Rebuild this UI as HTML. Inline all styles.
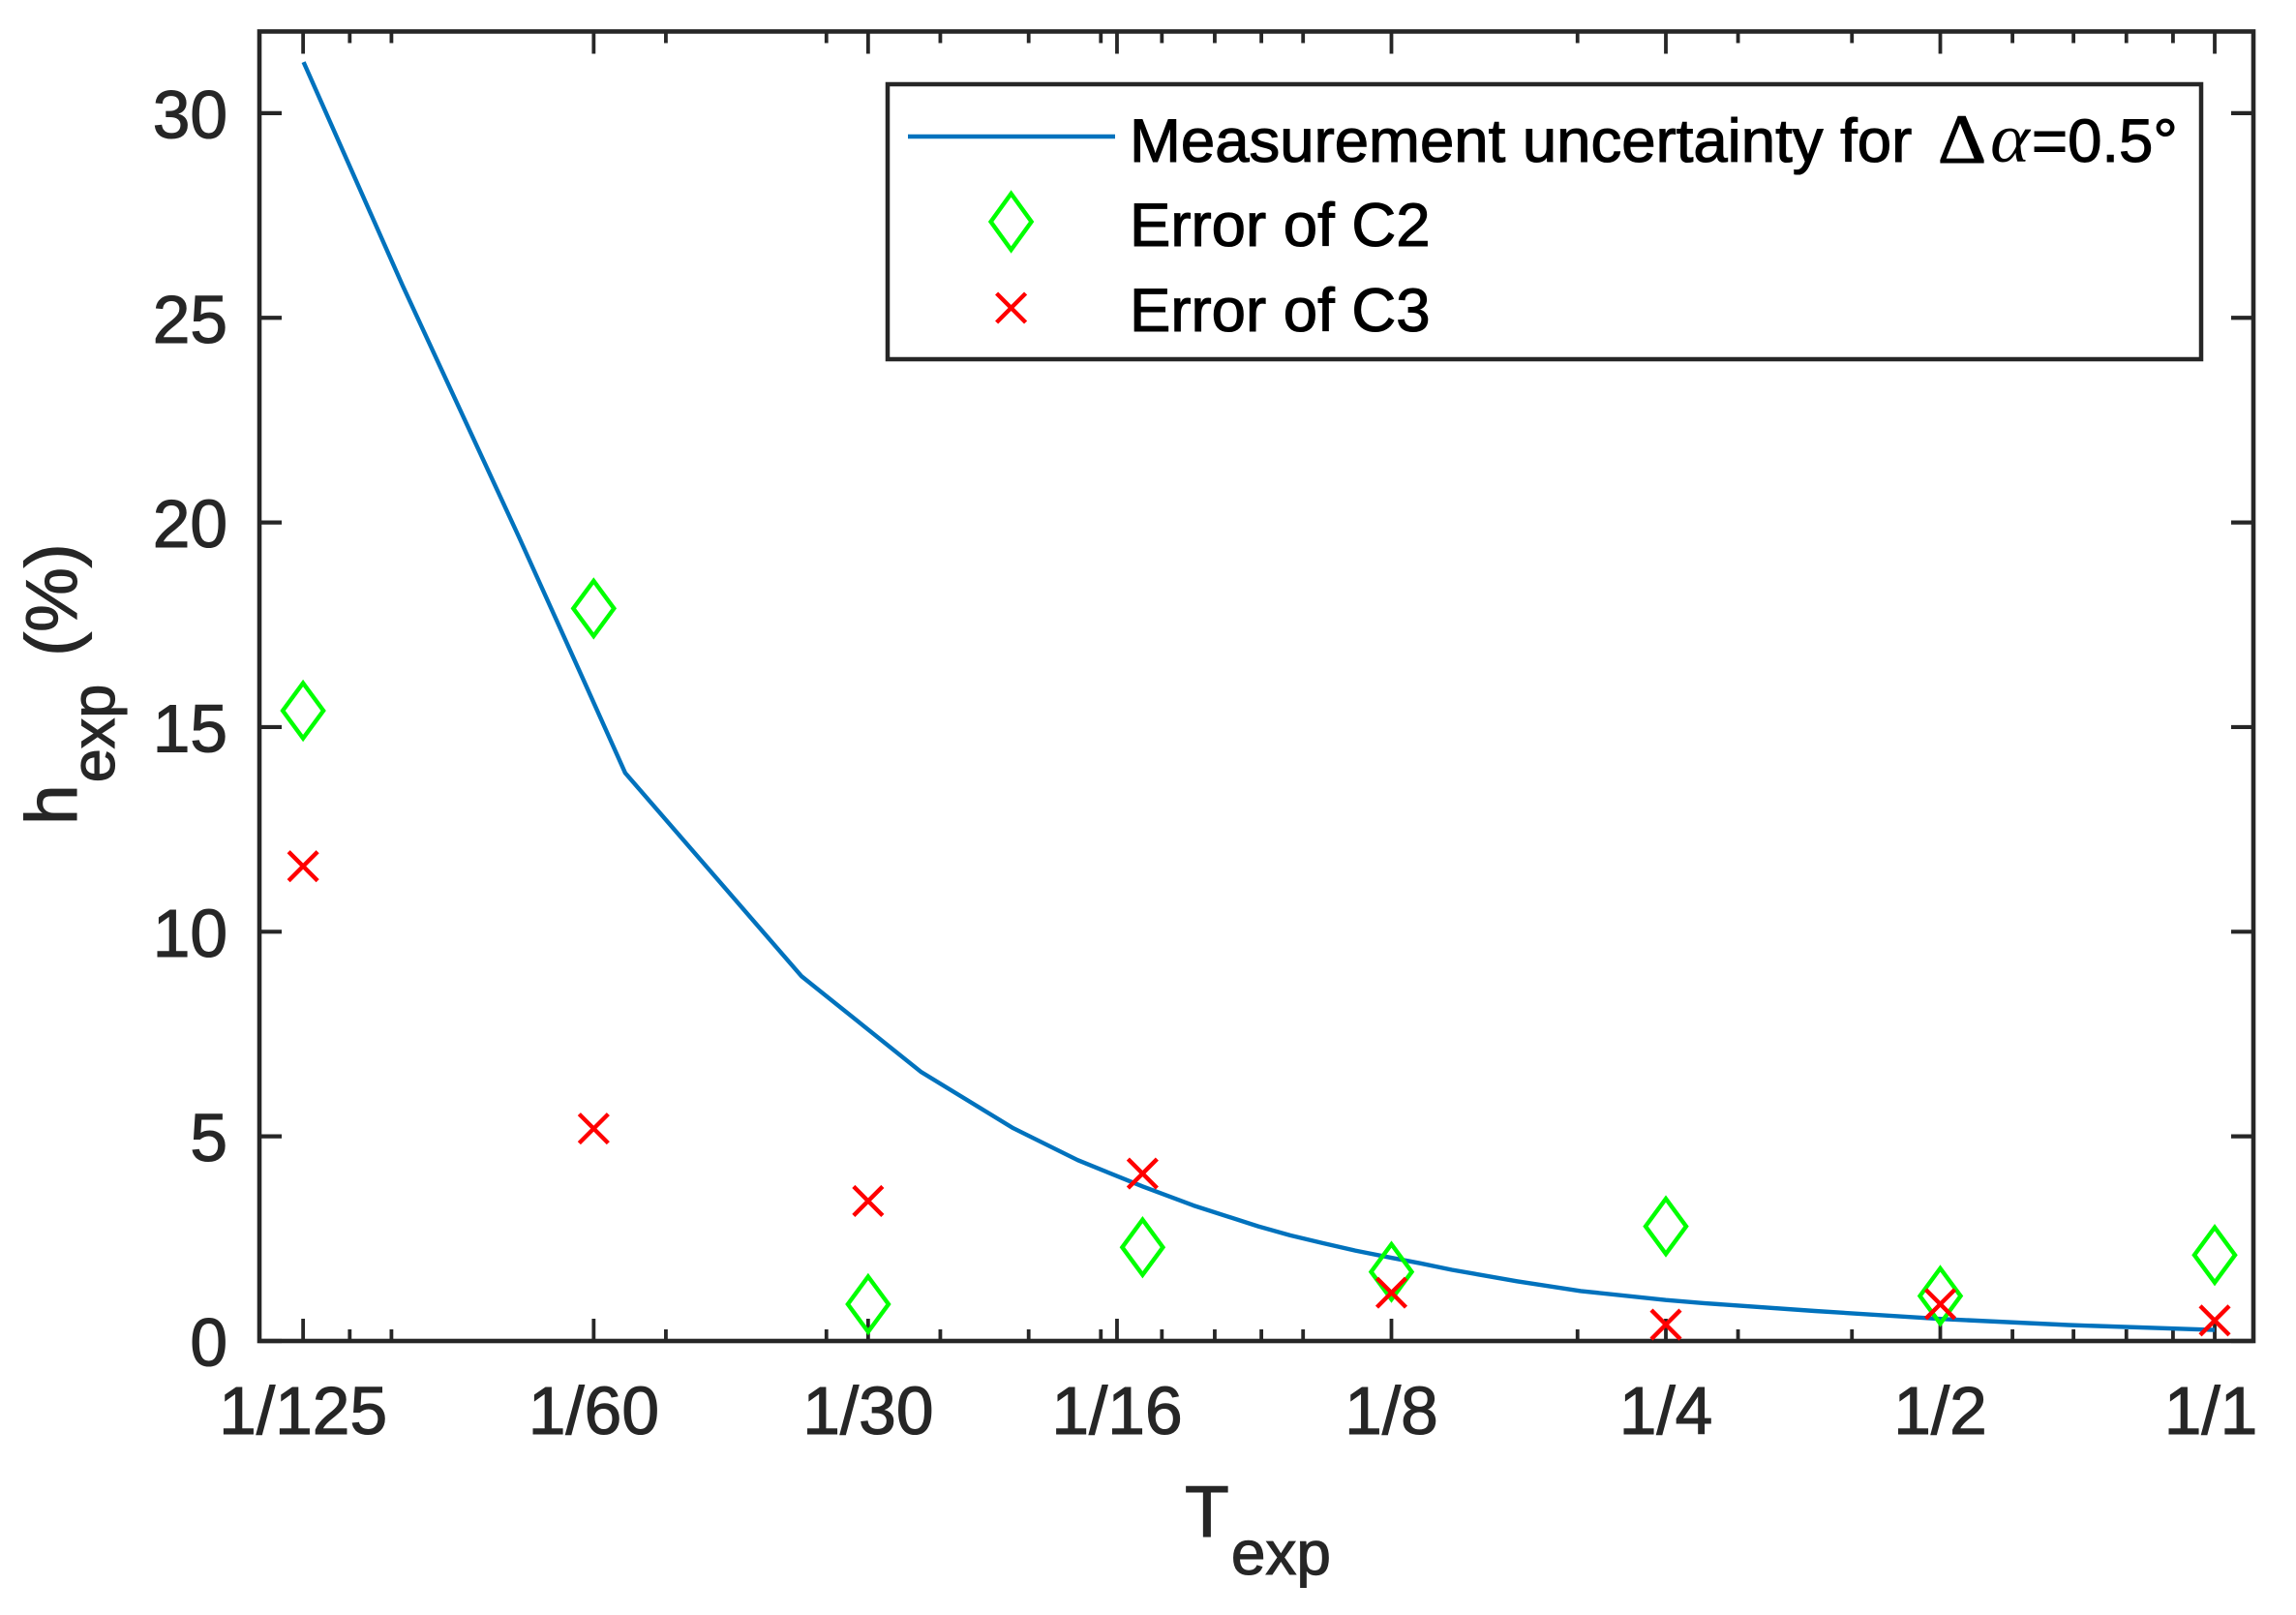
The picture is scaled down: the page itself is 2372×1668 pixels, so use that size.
<!DOCTYPE html>
<html lang="en">
<head>
<meta charset="utf-8">
<title>Measurement uncertainty chart</title>
<style>
  html, body { margin: 0; padding: 0; background: #fff; }
  svg { display: block; font-family: "Liberation Sans", Arial, sans-serif; }
  text { stroke-width: 1.1; paint-order: stroke; }
</style>
</head>
<body>
<svg id="chart" xmlns="http://www.w3.org/2000/svg" width="2372" height="1668" viewBox="0 0 2372 1668">
  <rect x="0" y="0" width="2372" height="1668" fill="#fff"/>
  <g id="axes"></g>
  <g id="series"></g>

  <text x="1224" y="1587" font-size="75" fill="#262626" stroke="#262626">T<tspan font-size="64" dy="39" dx="2">exp</tspan></text>
  <text transform="translate(79,852) rotate(-90)" font-size="75" fill="#262626" stroke="#262626">h<tspan font-size="63" dy="39" dx="2">exp</tspan><tspan dy="-39" dx="8"> (%)</tspan></text>

  <g>
    <rect x="917" y="87" width="1357" height="284" fill="#fff" stroke="#262626" stroke-width="4.5"/>
    <line x1="938" y1="141" x2="1152" y2="141" stroke="#0072BD" stroke-width="4.4"/>
    <polygon points="1044.6,200 1065.6,229 1044.6,258 1023.6,229" fill="none" stroke="#00FF00" stroke-width="4.4"/>
    <path d="M1029.6,303 L1059.6,333 M1059.6,303 L1029.6,333" fill="none" stroke="#FF0000" stroke-width="4.4"/>
    <text x="1167" y="167" font-size="63.5" fill="#000" stroke="#000">Measurement uncertainty for</text>
    <text x="2002" y="168" font-family="'Liberation Serif', serif" font-size="72" fill="#000" stroke="#000" textLength="50" lengthAdjust="spacingAndGlyphs">&#916;</text>
    <text x="2056" y="167" font-family="'Liberation Serif', serif" font-style="italic" font-size="72" fill="#000" textLength="41" lengthAdjust="spacingAndGlyphs">&#945;</text>
    <text x="2099" y="167" font-size="63.5" fill="#000" stroke="#000">=0.5&#176;</text>
    <text x="1167" y="254" font-size="63.5" fill="#000" stroke="#000">Error of C2</text>
    <text x="1167" y="342" font-size="63.5" fill="#000" stroke="#000">Error of C3</text>
  </g>
</svg>
<script>
// Chart data
const yTicks = [0, 5, 10, 15, 20, 25, 30];
const xTickT = [1/125, 1/60, 1/30, 1/16, 1/8, 1/4, 1/2, 1];
const xTickLabels = ["1/125", "1/60", "1/30", "1/16", "1/8", "1/4", "1/2", "1/1"];
const xMinorT = [0.009, 0.01, 0.02, 0.03, 0.04, 0.05, 0.06, 0.07, 0.08, 0.09, 0.1, 0.2, 0.3, 0.4, 0.6, 0.7, 0.8, 0.9];
const markerT = [1/125, 1/60, 1/30, 1/15, 1/8, 1/4, 1/2, 1];
const errorC2 = [15.4, 17.9, 0.9, 2.29, 1.69, 2.8, 1.1, 2.1];
const errorC3 = [11.6, 5.19, 3.42, 4.09, 1.18, 0.4, 0.9, 0.5];
const curveLog2T = [-6.964, -6.604, -6.181, -5.948, -5.792, -5.149, -4.713, -4.378, -4.143, -3.905, -3.721, -3.485, -3.369, -3.249, -3.132, -2.998, -2.896, -2.78, -2.543, -2.31, -2, -1.862, -1.457, -1, -0.533, 0];
const curveH = [31.25, 25.8, 19.67, 16.21, 13.88, 8.91, 6.57, 5.2, 4.42, 3.77, 3.31, 2.8, 2.58, 2.39, 2.21, 2.03, 1.9, 1.74, 1.46, 1.22, 1, 0.925, 0.734, 0.54, 0.39, 0.27];

// Plot frame
const plotLeft = 268, plotRight = 2328, plotTop = 32.5, plotBottom = 1385;
const xDomain = [-7.125, 0.141];
const yPerUnit = 42.27;
const ink = "#262626";
const NS = "http://www.w3.org/2000/svg";

function xFromLog(l) { return plotLeft + (l - xDomain[0]) / (xDomain[1] - xDomain[0]) * (plotRight - plotLeft); }
function xScale(t) { return xFromLog(Math.log2(t)); }
function yScale(v) { return plotBottom - v * yPerUnit; }

function make(tag, attrs, parent) {
  const el = document.createElementNS(NS, tag);
  for (const k in attrs) el.setAttribute(k, attrs[k]);
  parent.appendChild(el);
  return el;
}

const axes = document.getElementById("axes");
const series = document.getElementById("series");

function drawXTick(t, len, w, name) {
  const x = xScale(t);
  const bottom = make("line", {x1: x, x2: x, y1: plotBottom, y2: plotBottom - len, stroke: ink, "stroke-width": w}, axes);
  
  
  const top = make("line", {x1: x, x2: x, y1: plotTop, y2: plotTop + len, stroke: ink, "stroke-width": w}, axes);
  
  
}

xMinorT.forEach(function (t) { drawXTick(t, 12, 3.8, 'x-minor-tick'); });
xTickT.forEach(function (t, i) {
  drawXTick(t, 23, 3.8, 'x-major-tick');
  const labelX = i === xTickT.length - 1 ? xScale(t) - 4 : xScale(t);
  const label = make("text", {x: labelX, y: 1481, "text-anchor": "middle", "font-size": 69.5, fill: ink, stroke: ink}, axes);
  label.textContent = xTickLabels[i];
  
  
});

yTicks.forEach(function (v) {
  const y = yScale(v);
  const left = make("line", {x1: plotLeft, x2: plotLeft + 23, y1: y, y2: y, stroke: ink, "stroke-width": 4.2}, axes);
  
  
  const right = make("line", {x1: plotRight, x2: plotRight - 23, y1: y, y2: y, stroke: ink, "stroke-width": 4.2}, axes);
  
  
  const label = make("text", {x: 235, y: y + 25.5, "text-anchor": "end", "font-size": 69.5, fill: ink, stroke: ink}, axes);
  label.textContent = String(v);
  
  
});

const frame = make("rect", {x: plotLeft, y: plotTop, width: plotRight - plotLeft, height: plotBottom - plotTop, fill: "none", stroke: ink, "stroke-width": 4.6}, axes);



const curvePoints = curveLog2T.map(function (l, i) { return xFromLog(l).toFixed(1) + "," + yScale(curveH[i]).toFixed(1); }).join(" ");
const curve = make("polyline", {points: curvePoints, fill: "none", stroke: "#0072BD", "stroke-width": 4.4, "stroke-linejoin": "round"}, series);



errorC2.forEach(function (v, i) {
  const cx = xScale(markerT[i]), cy = yScale(v);
  const pts = [[cx, cy - 28.5], [cx + 21, cy], [cx, cy + 28.5], [cx - 21, cy]].map(function (p) { return p[0].toFixed(1) + "," + p[1].toFixed(1); }).join(" ");
  const d = make("polygon", {points: pts, fill: "none", stroke: "#00FF00", "stroke-width": 4.4}, series);
  
  
});

errorC3.forEach(function (v, i) {
  const cx = xScale(markerT[i]), cy = yScale(v), r = 15;
  const path = "M" + (cx - r) + "," + (cy - r) + " L" + (cx + r) + "," + (cy + r) + " M" + (cx + r) + "," + (cy - r) + " L" + (cx - r) + "," + (cy + r);
  const c = make("path", {d: path, fill: "none", stroke: "#FF0000", "stroke-width": 4.4}, series);
  
  
});
</script>
</body>
</html>
